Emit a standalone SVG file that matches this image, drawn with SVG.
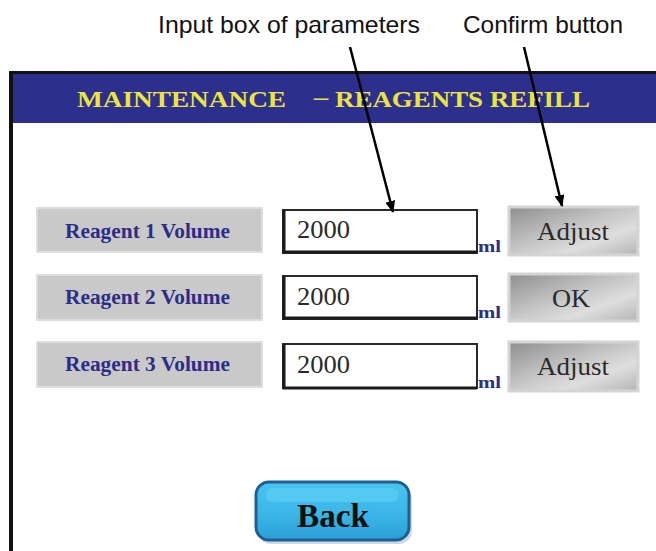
<svg xmlns="http://www.w3.org/2000/svg" width="656" height="551" viewBox="0 0 656 551">
<defs>
<linearGradient id="btnGrad" x1="0" y1="0" x2="1" y2="1">
<stop offset="0" stop-color="#8e8e8e"/>
<stop offset="0.45" stop-color="#c4c4c4"/>
<stop offset="0.7" stop-color="#dedede"/>
<stop offset="1" stop-color="#b4b4b4"/>
</linearGradient>
<linearGradient id="backGrad" x1="0" y1="0" x2="0" y2="1">
<stop offset="0" stop-color="#49c3ef"/>
<stop offset="0.5" stop-color="#3db7e8"/>
<stop offset="1" stop-color="#2a9fd6"/>
</linearGradient>
<marker id="arr" viewBox="0 0 12 10" refX="11" refY="5" markerWidth="12" markerHeight="10" markerUnits="userSpaceOnUse" orient="auto">
<path d="M0,0 L12,5 L0,10 z" fill="#000"/>
</marker>
</defs>
<style>
.ann{font-family:"Liberation Sans",Arial,sans-serif;font-size:24px;fill:#111}
.title{font-family:"Liberation Serif","Times New Roman",serif;font-weight:bold;font-size:23px;fill:#ece43c}
.lblbox{fill:#c9c9c9;stroke:#dedede;stroke-width:2}
.lbl{font-family:"Liberation Serif","Times New Roman",serif;font-weight:bold;font-size:20px;fill:#2b2d88}
.inbox{fill:#fff;stroke:#2a2a2a;stroke-width:2}
.inedge{fill:none;stroke:#1a1a1a;stroke-width:3}
.val{font-family:"Liberation Serif","Times New Roman",serif;font-size:26px;fill:#2a2a2a}
.ml{font-family:"Liberation Serif","Times New Roman",serif;font-weight:bold;font-size:17px;fill:#2b2d88}
.btn{fill:url(#btnGrad);stroke:#d4d4d4;stroke-width:3}
.btntxt{font-family:"Liberation Serif","Times New Roman",serif;font-size:26px;fill:#2a2a2a;text-anchor:middle}
.conn{stroke:#000;stroke-width:2.5;fill:none;marker-end:url(#arr)}
</style>
<rect width="656" height="551" fill="#fff"/>
<g id="frame">
<rect x="10" y="71" width="646" height="3" fill="#111"/>
<rect x="9" y="71" width="4" height="480" fill="#111"/>
</g>
<g id="header">
<rect x="13" y="74" width="643" height="49" fill="#2c2f8e"/>
<text class="title" x="77" y="107" textLength="209" lengthAdjust="spacingAndGlyphs">MAINTENANCE</text>
<text class="title" x="312" y="107" textLength="18" lengthAdjust="spacingAndGlyphs">−</text>
<text class="title" x="335" y="107" textLength="255" lengthAdjust="spacingAndGlyphs">REAGENTS REFILL</text>
</g>
<g id="annotation-input">
<text class="ann" x="158" y="33" textLength="262" lengthAdjust="spacingAndGlyphs">Input box of parameters</text>
</g>
<g id="annotation-confirm">
<text class="ann" x="463" y="33" textLength="160" lengthAdjust="spacingAndGlyphs">Confirm button</text>
</g>
<g id="label1">
<rect class="lblbox" x="37" y="208" width="225" height="44"/>
<text class="lbl" x="65" y="238" textLength="165" lengthAdjust="spacingAndGlyphs">Reagent 1 Volume</text>
</g>
<g id="input1">
<rect class="inbox" x="283" y="210" width="194" height="43"/>
<polyline class="inedge" points="284,210 284,252 477,252"/>
<text class="val" x="297" y="238" textLength="53" lengthAdjust="spacingAndGlyphs">2000</text>
<text class="ml" x="478" y="252" textLength="23" lengthAdjust="spacingAndGlyphs">ml</text>
</g>
<g id="button1">
<rect class="btn" x="509" y="207" width="129" height="48"/>
<text class="btntxt" x="573" y="240" textLength="72" lengthAdjust="spacingAndGlyphs">Adjust</text>
</g>
<g id="label2">
<rect class="lblbox" x="37" y="275" width="225" height="45"/>
<text class="lbl" x="65" y="304" textLength="165" lengthAdjust="spacingAndGlyphs">Reagent 2 Volume</text>
</g>
<g id="input2">
<rect class="inbox" x="283" y="276" width="194" height="43"/>
<polyline class="inedge" points="284,276 284,318 477,318"/>
<text class="val" x="297" y="305" textLength="53" lengthAdjust="spacingAndGlyphs">2000</text>
<text class="ml" x="478" y="318" textLength="23" lengthAdjust="spacingAndGlyphs">ml</text>
</g>
<g id="button2">
<rect class="btn" x="509" y="274" width="129" height="47"/>
<text class="btntxt" x="571" y="307" textLength="38" lengthAdjust="spacingAndGlyphs">OK</text>
</g>
<g id="label3">
<rect class="lblbox" x="37" y="342" width="225" height="45"/>
<text class="lbl" x="65" y="371" textLength="165" lengthAdjust="spacingAndGlyphs">Reagent 3 Volume</text>
</g>
<g id="input3">
<rect class="inbox" x="283" y="344" width="194" height="44"/>
<polyline class="inedge" points="284,344 284,388 477,388"/>
<text class="val" x="297" y="373" textLength="53" lengthAdjust="spacingAndGlyphs">2000</text>
<text class="ml" x="478" y="388" textLength="23" lengthAdjust="spacingAndGlyphs">ml</text>
</g>
<g id="button3">
<rect class="btn" x="509" y="342" width="129" height="49"/>
<text class="btntxt" x="573" y="375" textLength="72" lengthAdjust="spacingAndGlyphs">Adjust</text>
</g>
<g id="back">
<rect x="258" y="486" width="154" height="58" rx="13" fill="#9fb4c4" opacity="0.5"/>
<rect x="256" y="482" width="153" height="58" rx="13" fill="url(#backGrad)" stroke="#1d5f95" stroke-width="3"/>
<rect x="266" y="488" width="133" height="14" rx="7" fill="#5fd0f5" opacity="0.6"/>
<text x="333" y="527" text-anchor="middle" font-family="'Liberation Serif','Times New Roman',serif" font-weight="bold" font-size="34" fill="#111" textLength="72" lengthAdjust="spacingAndGlyphs">Back</text>
</g>
<g id="connectors">
<line class="conn" x1="350" y1="47" x2="393" y2="212"/>
<line class="conn" x1="524" y1="47" x2="562" y2="206"/>
</g>
</svg>
